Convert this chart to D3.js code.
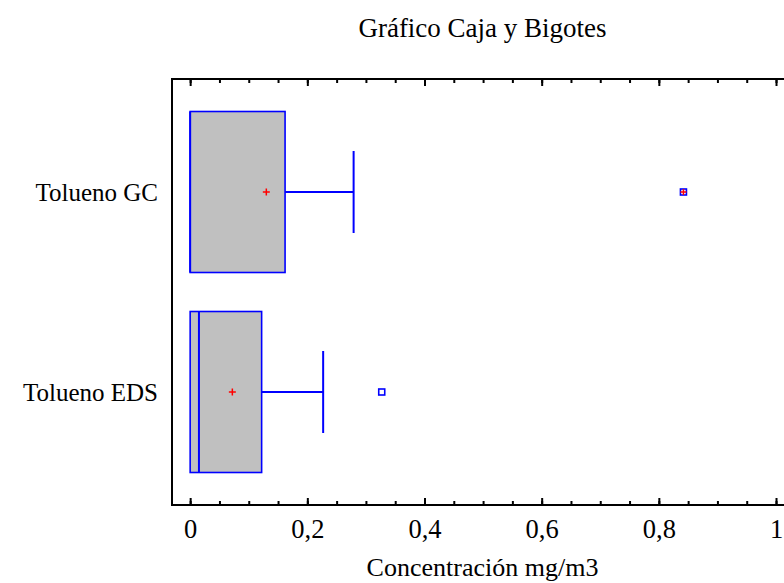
<!DOCTYPE html>
<html>
<head>
<meta charset="utf-8">
<script src="https://cdn.jsdelivr.net/npm/d3@7"></script>
<style>
  html, body { margin: 0; padding: 0; background: #fff; }
  svg { display: block; }
  text { font-family: "Liberation Serif", "Times New Roman", serif; fill: #000; }
</style>
</head>
<body>
<svg id="chart" width="784" height="583"></svg>
<script>
// Box-and-whisker summary per sample (mg/m3)
const categories = ["Tolueno GC", "Tolueno EDS"];
const lowerWhisker = [0, 0];
const q1 = [0, 0];
const median = [0, 0.015];
const q3 = [0.162, 0.122];
const upperWhisker = [0.279, 0.227];
const mean = [0.13, 0.072];
const outliers = [[0.842], [0.327]];
const farOutside = [true, false];

const majorTicks = [0, 0.2, 0.4, 0.6, 0.8, 1];
const minorTicks = d3.range(0, 1.0001, 0.05);

const title = "Gráfico Caja y Bigotes";
const xTitle = "Concentración mg/m3";

const W = 784, H = 583;
const plot = { left: 172, right: 793, top: 79, bottom: 505 };
const BLUE = "#0000ff", RED = "#ff0000", FILL = "#c0c0c0";

const svg = d3.select("#chart");
svg.append("rect").attr("width", W).attr("height", H).attr("fill", "#fff");

const x = d3.scaleLinear().domain([-0.031, 1.029]).range([plot.left, plot.right]);
const y = d3.scalePoint().domain(categories).range([plot.top, plot.bottom]).padding(0.565);
const step = y.step();
const boxH = step * 0.805;
const capH = step * 0.205;

const locale = d3.formatLocale({ decimal: ",", thousands: ".", grouping: [3], currency: ["", "€"] });
const fmt = v => locale.format("~g")(v);

// Frame
svg.append("rect")
  .attr("x", plot.left).attr("y", plot.top)
  .attr("width", plot.right - plot.left).attr("height", plot.bottom - plot.top)
  .attr("fill", "none").attr("stroke", "#000").attr("stroke-width", 2);

// Axes: ticks point inward on top and bottom edges
function tickAxis(gen, yPos, values, size, labels) {
  const g = svg.append("g").attr("transform", `translate(0,${yPos})`)
    .call(gen(x).tickValues(values).tickSizeInner(size).tickSizeOuter(0)
      .tickFormat(labels ? fmt : () => ""));
  g.select(".domain").remove();
  g.selectAll(".tick line").attr("stroke", "#000").attr("stroke-width", 2);
  return g;
}
tickAxis(d3.axisBottom, plot.bottom, minorTicks, -4, false);
tickAxis(d3.axisTop, plot.top, minorTicks, -4, false);
tickAxis(d3.axisTop, plot.top, majorTicks, -7, false);
const xb = tickAxis(d3.axisBottom, plot.bottom, majorTicks, -7, true);
xb.selectAll(".tick text")
  .attr("y", 33).attr("dy", 0)
  .style("font-family", "Liberation Serif").style("font-size", "26.5px");

// Category labels
svg.append("g").selectAll("text").data(categories).join("text")
  .attr("x", 158).attr("y", d => y(d) + 8.5)
  .attr("text-anchor", "end")
  .style("font-size", "25px")
  .text(d => d);

// Boxes
const boxes = svg.append("g").selectAll("g").data(categories).join("g");
boxes.append("line")
  .attr("x1", (d, i) => x(q3[i])).attr("x2", (d, i) => x(upperWhisker[i]))
  .attr("y1", d => y(d)).attr("y2", d => y(d))
  .attr("stroke", BLUE).attr("stroke-width", 2);
boxes.append("line")
  .attr("x1", (d, i) => x(upperWhisker[i])).attr("x2", (d, i) => x(upperWhisker[i]))
  .attr("y1", d => y(d) - capH).attr("y2", d => y(d) + capH)
  .attr("stroke", BLUE).attr("stroke-width", 2);
boxes.append("line")
  .attr("x1", (d, i) => x(lowerWhisker[i])).attr("x2", (d, i) => x(q1[i]))
  .attr("y1", d => y(d)).attr("y2", d => y(d))
  .attr("stroke", BLUE).attr("stroke-width", 2);
boxes.append("rect")
  .attr("x", (d, i) => x(q1[i])).attr("width", (d, i) => x(q3[i]) - x(q1[i]))
  .attr("y", d => y(d) - boxH / 2).attr("height", boxH)
  .attr("fill", FILL).attr("stroke", BLUE).attr("stroke-width", 1.6);
boxes.append("line")
  .attr("x1", (d, i) => x(median[i])).attr("x2", (d, i) => x(median[i]))
  .attr("y1", d => y(d) - boxH / 2).attr("y2", d => y(d) + boxH / 2)
  .attr("stroke", BLUE).attr("stroke-width", 2);

// Mean markers
function plus(g, cx, cy, r) {
  g.append("path")
    .attr("d", `M${cx - r},${cy}H${cx + r}M${cx},${cy - r}V${cy + r}`)
    .attr("stroke", RED).attr("stroke-width", 1.5).attr("fill", "none");
}
boxes.each(function (d, i) { plus(d3.select(this), x(mean[i]), y(d), 3.5); });

// Outside points
boxes.each(function (d, i) {
  const g = d3.select(this);
  outliers[i].forEach(v => {
    g.append("rect")
      .attr("x", x(v) - 3).attr("y", y(d) - 3)
      .attr("width", 6).attr("height", 6)
      .attr("fill", "none").attr("stroke", BLUE).attr("stroke-width", 1.6);
    if (farOutside[i]) plus(g, x(v), y(d), 3);
  });
});

// Titles
svg.append("text")
  .attr("x", (plot.left + plot.right) / 2).attr("y", 37)
  .attr("text-anchor", "middle").style("font-size", "27px")
  .text(title);
svg.append("text")
  .attr("x", (plot.left + plot.right) / 2).attr("y", 576)
  .attr("text-anchor", "middle").style("font-size", "26px")
  .text(xTitle);
</script>
</body>
</html>
